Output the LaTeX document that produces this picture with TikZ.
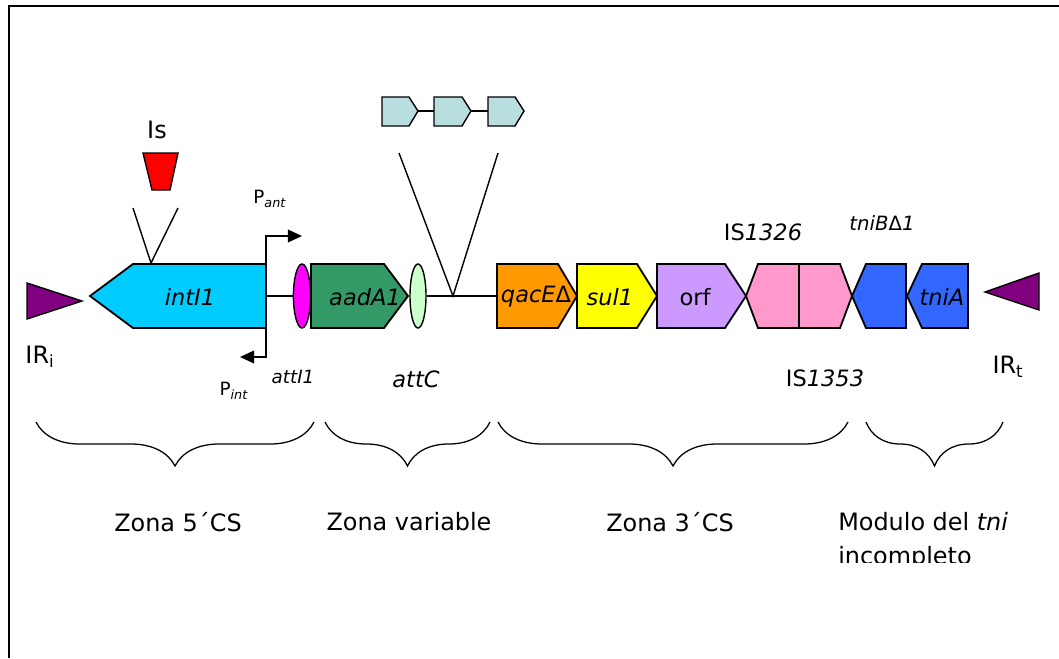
\documentclass[tikz,border=0pt]{standalone}
\usepackage{fontspec}
\setmainfont{DejaVu Sans}
\usepackage{tikz}
\usepackage{xcolor}
\usetikzlibrary{arrows.meta,calc,positioning,shapes.geometric,decorations.pathreplacing}
\definecolor{irpurple}{RGB}{128,0,128}
\definecolor{intblue}{RGB}{0,204,255}
\definecolor{attmag}{RGB}{255,0,255}
\definecolor{aadgreen}{RGB}{51,153,102}
\definecolor{attcgreen}{RGB}{204,255,204}
\definecolor{casscyan}{RGB}{185,222,224}
\definecolor{qacorange}{RGB}{255,153,0}
\definecolor{sulyellow}{RGB}{255,255,0}
\definecolor{orfpurple}{RGB}{204,153,255}
\definecolor{ispink}{RGB}{255,153,204}
\definecolor{tniblue}{RGB}{51,102,255}

\begin{document}
\begin{tikzpicture}[x=0.025cm,y=-0.025cm,>={Triangle[length=10pt,width=9pt]},
  gene/.style={draw=black,line width=1.3pt,line join=miter},
  lbl/.style={font=\fontsize{16}{19}\selectfont,inner sep=0pt},
  small/.style={font=\fontsize{13}{15}\selectfont,inner sep=0pt},
  big/.style={font=\fontsize{17}{20}\selectfont,inner sep=0pt},
  site/.style={ellipse,draw,line width=1pt,inner sep=0pt,minimum height=1.6cm},
  zone/.style={decorate,decoration={brace,mirror,amplitude=1.1cm},line width=0.9pt}]
\useasboundingbox (0,0) rectangle (1059,658);
\draw[line width=1.6pt] (9,658)--(9,6)--(1059,6);
% inverted repeats
\filldraw[gene,line width=1pt,fill=irpurple] (27,283)--(82,301)--(27,319)--cycle;
\filldraw[gene,line width=1pt,fill=irpurple] (1039,273)--(985,292)--(1039,310)--cycle;
\node[big] (iri) at (40,357) {IR\textsubscript{i}};
\node[big] (irt) at (1008,367) {IR\textsubscript{t}};
% 5' zone
\coordinate (intNE) at (266,264); \coordinate (intSE) at (266,328);
\coordinate (intR) at (266,296);
\filldraw[gene,fill=intblue] (90,296)--(133,264)--(intNE)--(intSE)--(133,328)--cycle;
\node[lbl] (intI) at (190,297) {\textit{intI1}};
\filldraw[gene,line width=1pt,fill=red] (143,153)--(178,153)--(170,190)--(152,190)--cycle;
\node[big] (is) at (157,130) {Is};
\coordinate (isin) at (151,263);
\draw[line width=1pt] (133,208)--(isin)--(178,208);
\coordinate (pant) at (302,236); \coordinate (pint) at (240,357);
\draw[->,line width=1.2pt] (intNE) |- (pant);
\draw[->,line width=1.2pt] (intSE) |- (pint);
\node[small] (lpant) at (270,199) {P\textsubscript{\textit{ant}}};
\node[small] (lpint) at (234,391) {P\textsubscript{\textit{int}}};
\node[site,fill=attmag,minimum width=0.43cm] (attI) at (302,296) {};
\draw[line width=1pt] (intR) -- (attI);
\node[small] (lattI) at (293,377) {\textit{attI1}};
% variable zone
\filldraw[gene,fill=aadgreen] (311,264)--(384,264)--(408,296)--(384,328)--(311,328)--cycle;
\node[lbl] (aad) at (365,297) {\textit{aadA1}};
\node[site,fill=attcgreen,minimum width=0.4cm] (attC) at (418,296) {};
\node[lbl] (lattC) at (416,379) {\textit{attC}};
\coordinate (qacL) at (497,296); \coordinate (cassin) at (453,296);
\draw[line width=1pt] (attC) -- (qacL);
\draw[line width=1pt] (399,153)--(cassin)--(498,153);
\foreach \a/\b/\c/\n in {382/409/418/1,434/462/471/2,488/515/524/3}{
  \filldraw[gene,line width=1pt,fill=casscyan] (\a,97)--(\b,97)--(\c,111)--(\b,126)--(\a,126)--cycle;
  \coordinate (cL\n) at (\a,111); \coordinate (cR\n) at (\c,111);
}
\draw[line width=1pt] (cR1)--(cL2) (cR2)--(cL3);
% 3' zone
\filldraw[gene,fill=qacorange] (qacL)|-(558,264)--(577,296)--(558,328)-|(qacL);
\node[lbl] (qac) at (536,297) {\textit{qacE}Δ};
\filldraw[gene,fill=sulyellow] (577,264)--(637,264)--(657,296)--(637,328)--(577,328)--cycle;
\node[lbl] (sul) at (610,297) {\textit{sul1}};
\filldraw[gene,fill=orfpurple] (657,264)--(725,264)--(746,296)--(725,328)--(657,328)--cycle;
\node[lbl] (orf) at (695,297) {orf};
\filldraw[gene,fill=ispink] (746,296)--(758,264)--(840,264)--(852,296)--(840,328)--(758,328)--cycle;
\draw[gene] (799,264)--(799,328);
\node[lbl] (is1326) at (763,232) {IS\textit{1326}};
\node[lbl] (is1353) at (825,378) {IS\textit{1353}};
% tni module
\filldraw[gene,fill=tniblue] (852,296)--(866,264)--(906,264)--(906,328)--(866,328)--cycle;
\filldraw[gene,fill=tniblue] (907,296)--(922,264)--(968,264)--(968,328)--(922,328)--cycle;
\node[small,font=\fontsize{14}{16}\selectfont] (tnib) at (882,223) {\textit{tniB}Δ\textit{1}};
\node[lbl] (tnia) at (942,297) {\textit{tniA}};
% zones
\draw[zone] (36,422) -- (314,422);
\draw[zone] (325,422) -- (490,422);
\draw[zone] (498,422) -- (848,422);
\draw[zone] (866,422) -- (1003,422);
\node[big] (z5) at (178,522) {Zona 5´CS};
\node[big] (zv) at (409,522) {Zona variable};
\node[big] (z3) at (670,522) {Zona 3´CS};
\node[big,anchor=west] (ztni) at (838,522) {Modulo del \textit{tni}};
\begin{scope}
\clip (830,540) rectangle (1059,562);
\node[big,anchor=west] (zinc) at (838,558) {incompleto};
\end{scope}
\end{tikzpicture}
\end{document}
